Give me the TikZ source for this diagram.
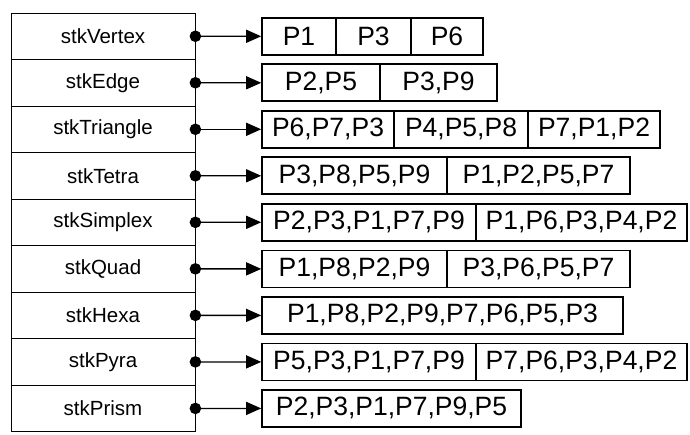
\documentclass[tikz,border=0pt]{standalone}
\usepackage{fontspec}
\setmainfont{Liberation Sans}
\usetikzlibrary{arrows.meta}
% one cell of a point list: name, left x, right x, centre y, text
\newcommand\listcell[5]{\node[cell, minimum width={(#3-#2)*1pt}] (#1) at ({(#2+#3)/2},#4) {#5};}
\begin{document}
\begin{tikzpicture}[x=1pt,y=-1pt,
  stack/.style={draw, line width=0.8pt, minimum width=184pt, minimum height=46.52pt,
    inner sep=0pt, font=\fontsize{20.5}{20.5}\selectfont},
  cell/.style={draw, line width=1.6pt, minimum height=37pt, inner sep=0pt,
    font=\fontsize{26.5}{26.5}\selectfont},
  link/.style={line width=1.3pt, {Circle[length=11.5pt]}-{Triangle[length=15pt,width=13pt]},
    shorten <=-5.75pt}
]
\useasboundingbox (0,0) rectangle (690,435);

% stack of element kinds
\foreach \nm [count=\i] in {stkVertex,stkEdge,stkTriangle,stkTetra,stkSimplex,stkQuad,stkHexa,stkPyra,stkPrism}
  \node[stack] (s\i) at (103,{13+46.52*(\i-0.5)}) {\nm};

% point lists
\listcell{a1}{262}{336}{36.3}{P1}
\listcell{a2}{336}{411}{36.3}{P3}
\listcell{a3}{411}{483}{36.3}{P6}

\listcell{b1}{262}{380}{82.8}{P2,P5}
\listcell{b2}{380}{497}{82.8}{P3,P9}

\listcell{c1}{262}{394}{129.3}{P6,P7,P3}
\listcell{c2}{394}{528}{129.3}{P4,P5,P8}
\listcell{c3}{528}{660}{129.3}{P7,P1,P2}

\listcell{d1}{262}{447}{175.8}{P3,P8,P5,P9}
\listcell{d2}{447}{630}{175.8}{P1,P2,P5,P7}

\listcell{e1}{262}{476}{222.3}{P2,P3,P1,P7,P9}
\listcell{e2}{476}{687}{222.3}{P1,P6,P3,P4,P2}

\listcell{f1}{262}{447}{268.9}{P1,P8,P2,P9}
\listcell{f2}{447}{630}{268.9}{P3,P6,P5,P7}

\listcell{g1}{262}{623}{315.4}{P1,P8,P2,P9,P7,P6,P5,P3}

\listcell{h1}{262}{476}{361.9}{P5,P3,P1,P7,P9}
\listcell{h2}{476}{687}{361.9}{P7,P6,P3,P4,P2}

\listcell{k1}{262}{521}{408.4}{P2,P3,P1,P7,P9,P5}

% pointers from the stack to the lists
\foreach \i/\t in {1/a1,2/b1,3/c1,4/d1,5/e1,6/f1,7/g1,8/h1,9/k1}
  \draw[link] (s\i.east) -- (\t.west);
\end{tikzpicture}
\end{document}
